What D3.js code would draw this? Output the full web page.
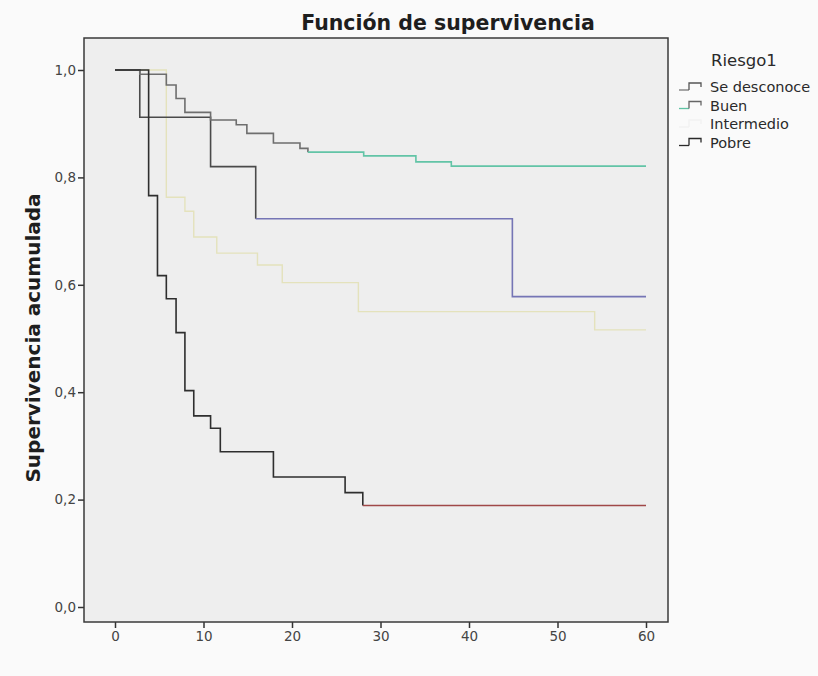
<!DOCTYPE html>
<html><head><meta charset="utf-8">
<script src="https://cdn.jsdelivr.net/npm/d3@7"></script>
<style>
html,body{margin:0;padding:0;background:#fafafa;}
svg{display:block;font-family:"DejaVu Sans",sans-serif;}
</style></head>
<body><svg id="chart" width="818" height="676"></svg>
<script>
// ---- data ----
const seriesNames = ["Se desconoce", "Buen", "Intermedio", "Pobre"];
const seDesconoceT = [0, 2.8, 10.8, 15.9, 44.9, 60];
const seDesconoceS = [1.0, 0.912, 0.820, 0.723, 0.578, 0.578];
const buenT = [0, 2.8, 5.8, 6.9, 7.9, 10.8, 13.7, 14.9, 17.9, 20.9, 21.8, 28.1, 34.0, 38.0, 60];
const buenS = [1.0, 0.992, 0.972, 0.947, 0.921, 0.907, 0.898, 0.882, 0.864, 0.854, 0.847, 0.840, 0.829, 0.821, 0.821];
const intermedioT = [0, 5.8, 7.9, 8.9, 11.5, 16.1, 18.9, 27.5, 54.2, 60];
const intermedioS = [1.0, 0.763, 0.737, 0.689, 0.659, 0.637, 0.604, 0.550, 0.516, 0.516];
const pobreT = [0, 3.8, 4.8, 5.8, 6.9, 7.9, 8.9, 10.8, 11.9, 17.9, 26.0, 28.0, 60];
const pobreS = [1.0, 0.766, 0.617, 0.574, 0.511, 0.403, 0.356, 0.333, 0.289, 0.242, 0.213, 0.189, 0.189];
const xTicks = [0, 10, 20, 30, 40, 50, 60];
const yTicks = [0, 0.2, 0.4, 0.6, 0.8, 1.0];
const titleText = "Función de supervivencia";
const yTitle = "Supervivencia acumulada";
const legendTitle = "Riesgo1";

// ---- styles ----
const styles = [
  {dark: "#4a4a4a", tail: "#7575b5", tailFrom: 15.9, w: 1.6},
  {dark: "#6e6e6e", tail: "#62c4a6", tailFrom: 21.8, w: 1.6},
  {dark: "#e8e7d8", tail: "#e4e2bc", tailFrom: 0, w: 1.4},
  {dark: "#2e2e2e", tail: "#a04848", tailFrom: 28.0, w: 1.6}
];
const seriesT = [seDesconoceT, buenT, intermedioT, pobreT];
const seriesS = [seDesconoceS, buenS, intermedioS, pobreS];
const drawOrder = [2, 0, 1, 3];

const frame = {left: 84, right: 668, top: 38, bottom: 622};
const svg = d3.select("#chart");

const x = d3.scaleLinear().domain([0, 60]).range([115, 646]);
const y = d3.scaleLinear().domain([0, 1]).range([607, 70]);

// plot background
svg.append("rect").attr("x", frame.left).attr("y", frame.top)
  .attr("width", frame.right - frame.left).attr("height", frame.bottom - frame.top)
  .attr("fill", "#eeeeee");

const locale = d3.formatLocale({decimal: ",", thousands: ".", grouping: [3], currency: ["", "€"]});
const fmt = locale.format(".1f");

// axes
const yAxis = svg.append("g").attr("transform", `translate(${frame.left},0)`)
  .call(d3.axisLeft(y).tickValues(yTicks).tickFormat(fmt).tickSize(6).tickPadding(2));
const xAxis = svg.append("g").attr("transform", `translate(0,${frame.bottom})`)
  .call(d3.axisBottom(x).tickValues(xTicks).tickFormat(d3.format("d")).tickSize(6).tickPadding(3));
[yAxis, xAxis].forEach(a => {
  a.select(".domain").remove();
  a.selectAll(".tick line").attr("stroke", "#333").attr("stroke-width", 1.5);
  a.selectAll(".tick text").attr("fill", "#444").style("font-size", "13.5px")
    .style("font-family", "'DejaVu Sans', sans-serif");
});

// curves
const line = d3.line().x(d => x(d[0])).y(d => y(d[1])).curve(d3.curveStepAfter);
drawOrder.forEach(i => {
  const ts = seriesT[i];
  const pts = ts.map((t, j) => [t, seriesS[i][j]]);
  const st = styles[i];
  const darkPts = pts.filter(p => p[0] <= st.tailFrom);
  const tailPts = pts.filter(p => p[0] >= st.tailFrom);
  if (darkPts.length > 1)
    svg.append("path").attr("d", line(darkPts)).attr("fill", "none")
      .attr("stroke", st.dark).attr("stroke-width", st.w);
  if (tailPts.length > 1)
    svg.append("path").attr("d", line(tailPts)).attr("fill", "none")
      .attr("stroke", st.tail).attr("stroke-width", st.w);
});

// frame
svg.append("rect").attr("x", frame.left).attr("y", frame.top)
  .attr("width", frame.right - frame.left).attr("height", frame.bottom - frame.top)
  .attr("fill", "none").attr("stroke", "#3a3a3a").attr("stroke-width", 1.5);

// title
svg.append("text").attr("x", 448).attr("y", 30).attr("text-anchor", "middle")
  .style("font-size", "20.5px").style("font-weight", "bold").attr("fill", "#1e1e1e")
  .text(titleText);

// y title
svg.append("text").attr("transform", "translate(40,338) rotate(-90)")
  .attr("text-anchor", "middle").style("font-size", "20px").style("font-weight", "bold")
  .attr("fill", "#1e1e1e").text(yTitle);

// legend
const lg = svg.append("g");
lg.append("text").attr("x", 711).attr("y", 66).style("font-size", "16.5px")
  .attr("fill", "#2a2a2a").text(legendTitle);
const legendColors = ["#555555", "#666666", "#f2f2f2", "#2a2a2a"];
const legendLow = ["#777777", "#5ec3a3", "#f2f2f2", "#2a2a2a"];
seriesNames.forEach((name, i) => {
  const by = 92 + i * 18.5;
  lg.append("path").attr("d", `M679,${by - 2}H689`).attr("fill", "none")
    .attr("stroke", legendLow[i]).attr("stroke-width", 1.3);
  lg.append("path").attr("d", `M689,${by - 2}V${by - 9}H701V${by - 5}`).attr("fill", "none")
    .attr("stroke", legendColors[i]).attr("stroke-width", 1.3);
  lg.append("text").attr("x", 710).attr("y", by).style("font-size", "14.5px")
    .attr("fill", "#2a2a2a").text(name);
});
</script></body></html>
